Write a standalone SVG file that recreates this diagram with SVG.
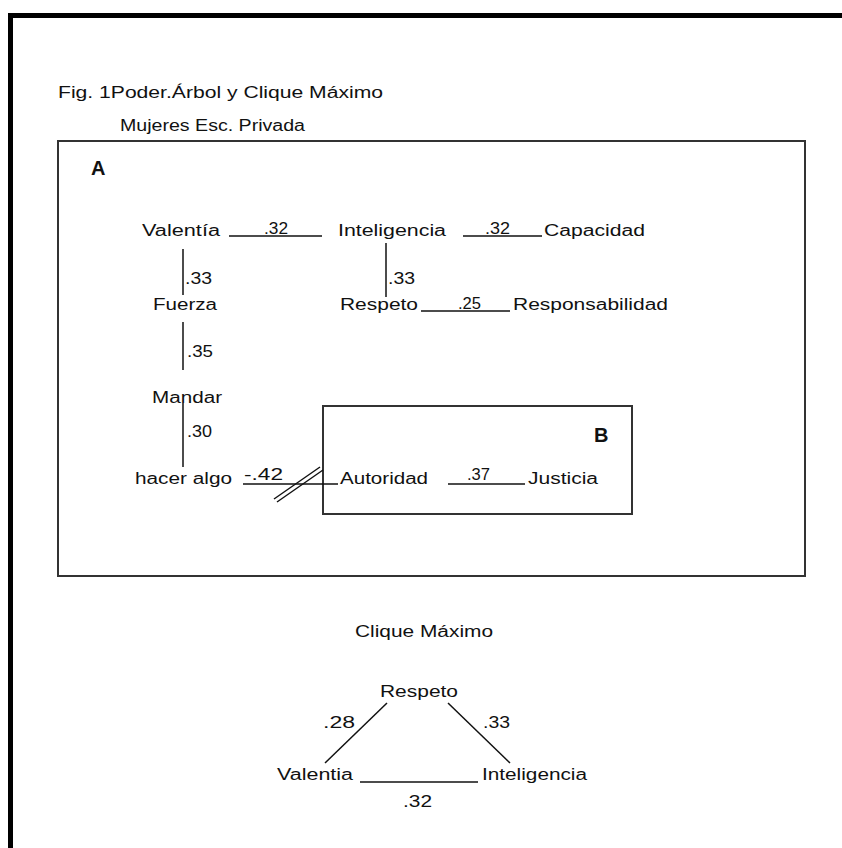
<svg xmlns="http://www.w3.org/2000/svg" width="842" height="848" viewBox="0 0 842 848">
<style>
text{font-family:"Liberation Sans",Arial,sans-serif;font-size:16px;fill:#111}
.b{font-weight:bold;font-size:20px}
.c line{stroke:#111;stroke-width:1.5}
.box{fill:none;stroke:#333;stroke-width:2}
</style>
<rect width="842" height="848" fill="#fff"/>
<g id="frame">
<line x1="8" y1="15.5" x2="842" y2="15.5" stroke="#000" stroke-width="5"/>
<line x1="10.5" y1="13" x2="10.5" y2="848" stroke="#000" stroke-width="5"/>
</g>
<g id="title">
<text x="58" y="98" textLength="325" lengthAdjust="spacingAndGlyphs">Fig. 1Poder.Árbol y Clique Máximo</text>
<text x="120" y="131" textLength="185" lengthAdjust="spacingAndGlyphs">Mujeres Esc. Privada</text>
</g>
<g id="boxA"><rect class="box" x="58" y="141" width="747" height="435"/><text class="b" x="91" y="175">A</text></g>
<g id="boxB"><rect class="box" x="323" y="406" width="309" height="108"/><text class="b" x="594" y="442">B</text></g>
<g class="c" id="connectors">
<line x1="229" y1="236" x2="322" y2="236"/>
<line x1="463" y1="236" x2="542" y2="236"/>
<line x1="183" y1="249" x2="183" y2="295"/>
<line x1="386" y1="243" x2="386" y2="297"/>
<line x1="421" y1="311" x2="510" y2="311"/>
<line x1="183" y1="322" x2="183" y2="370"/>
<line x1="183" y1="403" x2="183" y2="467"/>
<line x1="243" y1="484" x2="338" y2="484"/>
<line x1="448" y1="484" x2="525" y2="484"/>
<line x1="274" y1="499" x2="320" y2="467" stroke-width="1" stroke="#444"/>
<line x1="277" y1="502" x2="323" y2="470" stroke-width="1" stroke="#444"/>
<line x1="387" y1="703" x2="325" y2="763"/>
<line x1="448" y1="703" x2="510" y2="763"/>
<line x1="360" y1="782" x2="478" y2="782"/>
</g>
<g id="labels">
<text x="264" y="234" textLength="24" lengthAdjust="spacingAndGlyphs">.32</text>
<text x="485" y="234" textLength="25" lengthAdjust="spacingAndGlyphs">.32</text>
<text x="185" y="284" textLength="27" lengthAdjust="spacingAndGlyphs">.33</text>
<text x="388" y="284" textLength="27" lengthAdjust="spacingAndGlyphs">.33</text>
<text x="458" y="309" textLength="23" lengthAdjust="spacingAndGlyphs">.25</text>
<text x="187" y="357" textLength="26" lengthAdjust="spacingAndGlyphs">.35</text>
<text x="187" y="437" textLength="25" lengthAdjust="spacingAndGlyphs">.30</text>
<text x="244" y="480" textLength="39" lengthAdjust="spacingAndGlyphs">-.42</text>
<text x="467" y="480" textLength="23" lengthAdjust="spacingAndGlyphs">.37</text>
<text x="323" y="728" textLength="32" lengthAdjust="spacingAndGlyphs">.28</text>
<text x="483" y="728" textLength="27" lengthAdjust="spacingAndGlyphs">.33</text>
<text x="403" y="807" textLength="29" lengthAdjust="spacingAndGlyphs">.32</text>
</g>
<g id="n-valentia"><text x="142" y="236" textLength="78" lengthAdjust="spacingAndGlyphs">Valentía</text></g>
<g id="n-inteligencia"><text x="338" y="236" textLength="108" lengthAdjust="spacingAndGlyphs">Inteligencia</text></g>
<g id="n-capacidad"><text x="544" y="236" textLength="101" lengthAdjust="spacingAndGlyphs">Capacidad</text></g>
<g id="n-fuerza"><text x="153" y="310" textLength="64" lengthAdjust="spacingAndGlyphs">Fuerza</text></g>
<g id="n-respeto"><text x="340" y="310" textLength="78" lengthAdjust="spacingAndGlyphs">Respeto</text></g>
<g id="n-responsabilidad"><text x="513" y="310" textLength="155" lengthAdjust="spacingAndGlyphs">Responsabilidad</text></g>
<g id="n-mandar"><text x="152" y="403" textLength="70" lengthAdjust="spacingAndGlyphs">Mandar</text></g>
<g id="n-hacer"><text x="135" y="484" textLength="97" lengthAdjust="spacingAndGlyphs">hacer algo</text></g>
<g id="n-autoridad"><text x="340" y="484" textLength="88" lengthAdjust="spacingAndGlyphs">Autoridad</text></g>
<g id="n-justicia"><text x="528" y="484" textLength="70" lengthAdjust="spacingAndGlyphs">Justicia</text></g>
<g id="clique-title"><text x="355" y="637" textLength="138" lengthAdjust="spacingAndGlyphs">Clique Máximo</text></g>
<g id="c-respeto"><text x="380" y="697" textLength="78" lengthAdjust="spacingAndGlyphs">Respeto</text></g>
<g id="c-valentia"><text x="277" y="780" textLength="76" lengthAdjust="spacingAndGlyphs">Valentia</text></g>
<g id="c-inteligencia"><text x="482" y="780" textLength="105" lengthAdjust="spacingAndGlyphs">Inteligencia</text></g>
</svg>
